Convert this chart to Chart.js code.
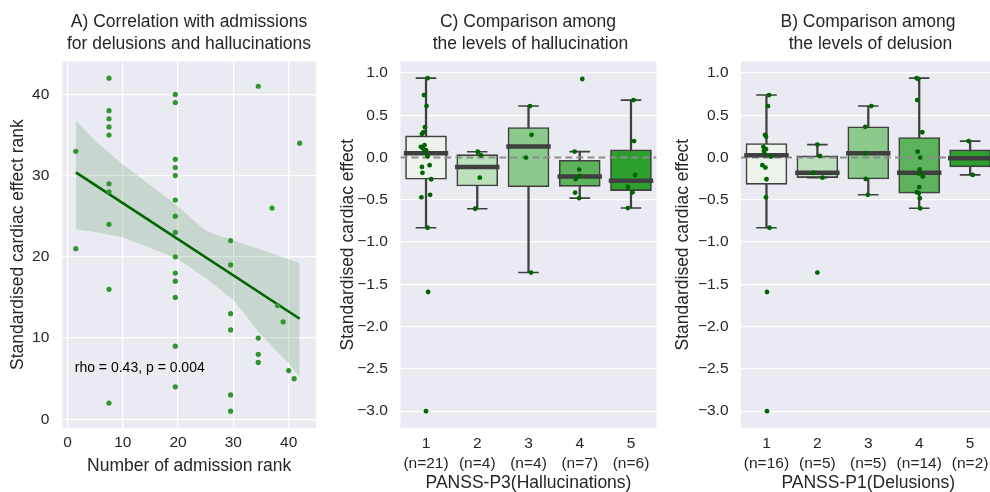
<!DOCTYPE html>
<html><head><meta charset="utf-8">
<script src="https://cdn.jsdelivr.net/npm/chart.js@4/dist/chart.umd.min.js"></script>
<style>
html,body{margin:0;padding:0;background:#fff;overflow:hidden;width:990px;height:492px;position:relative;}
.wrap{position:absolute;top:0;height:492px;}
.title{position:absolute;top:10px;font-family:"Liberation Sans",Arial,sans-serif;font-size:17.5px;color:#262626;text-align:center;line-height:22px;white-space:pre;width:400px;}
</style></head><body>
<div class="wrap" style="left:0;width:330px"><canvas id="cA" width="330" height="492"></canvas></div>
<div class="wrap" style="left:330px;width:330px"><canvas id="cC" width="330" height="492"></canvas></div>
<div class="wrap" style="left:660px;width:340px"><canvas id="cB" width="340" height="492"></canvas></div>
<div class="title" style="left:-11px">A) Correlation with admissions
for delusions and hallucinations</div>
<div class="title" style="left:328px">C) Comparison among
 the levels of hallucination</div>
<div class="title" style="left:668px">B) Comparison among
 the levels of delusion</div>
<script>
// ---------- Panel A data ----------
const admissionRank = [1.5,1.5,
  7.5,7.5,7.5,7.5,7.5,7.5,7.5,7.5,7.5,7.5,
  19.5,19.5,19.5,19.5,19.5,19.5,19.5,19.5,19.5,19.5,19.5,19.5,19.5,19.5,
  29.5,29.5,29.5,29.5,29.5,29.5,
  34.5,34.5,34.5,34.5,
  37,38,39,40,41,42];
const effectRank = [33,21,
  42,38,37,36,35,29,28,24,16,2,
  40,39,32,31,30,27,25,23,20,18,17,15,9,4,
  22,19,13,11,3,1,
  41,10,8,7,
  26,14,12,6,5,34];
const bandX     = [1.5, 5, 10, 15, 20, 25, 30, 35, 40, 42];
const bandUpper = [36.8, 34.3, 31.4, 28.8, 26.2, 23.2, 22.0, 20.9, 19.7, 19.2];
const bandLower = [23.4, 23.05, 22.4, 21.1, 19.7, 17.4, 14.7, 10.4, 6.9, 5.2];
const ticksA = [0, 10, 20, 30, 40];
const rhoText = 'rho = 0.43, p = 0.004';

// ---------- Panel C data (PANSS-P3) ----------
const catLabels = ['1','2','3','4','5'];
const nC = ['(n=21)','(n=4)','(n=4)','(n=7)','(n=6)'];
const ptsC = [
  [0.94,0.74,0.61,0.36,0.30,0.28,0.147,0.127,0.11,0.088,0.07,0.016,-0.09,-0.11,-0.18,-0.256,-0.44,-0.47,-0.83,-1.59,-3.0],
  [0.07,0.028,-0.237,-0.605],
  [0.61,0.27,0.0,-1.36],
  [0.93,0.071,-0.142,-0.217,-0.253,-0.415,-0.48],
  [0.68,0.195,-0.205,-0.348,-0.41,-0.597]
];
const jitC = [
  [0.03,-0.04,0.01,-0.02,-0.05,-0.08,-0.03,-0.10,-0.06,0.0,-0.03,0.03,0.07,-0.08,-0.07,0.10,0.08,-0.09,0.03,0.04,0.0],
  [0.01,0.07,0.05,-0.04],
  [0.03,0.06,-0.05,0.05],
  [0.05,-0.10,-0.01,0,-0.08,-0.09,-0.01],
  [0.05,0.06,0.08,-0.06,0.03,-0.06]
];
const q1C  = [-0.256,-0.336,-0.344,-0.34,-0.39];
const medC = [0.052,-0.11,0.13,-0.225,-0.273];
const q3C  = [0.257,0.035,0.356,-0.031,0.091];
const wloC = [-0.83,-0.605,-1.36,-0.48,-0.597];
const whiC = [0.94,0.07,0.61,0.071,0.68];

// ---------- Panel B data (PANSS-P1) ----------
const nB = ['(n=16)','(n=5)','(n=5)','(n=14)','(n=2)'];
const ptsB = [
  [0.74,0.61,0.27,0.25,0.127,0.10,0.08,0.048,0.012,-0.09,-0.118,-0.256,-0.47,-0.83,-1.59,-3.0],
  [0.154,0.02,-0.178,-0.237,-1.36],
  [0.61,0.364,0.052,-0.253,-0.44],
  [0.94,0.93,0.68,0.30,0.07,0.0,-0.14,-0.19,-0.225,-0.35,-0.41,-0.42,-0.48,-0.60],
  [0.195,-0.205]
];
const jitB = [
  [0.05,0.03,-0.03,-0.01,-0.06,-0.01,-0.05,-0.04,0.09,-0.08,-0.02,0,-0.01,0.06,0.01,0.01],
  [0,0.05,-0.08,0.10,0],
  [0.06,-0.06,-0.06,-0.05,-0.01],
  [-0.05,-0.02,-0.04,0.06,-0.03,0.02,0.01,0,0.07,0,-0.05,-0.01,0.01,0.02],
  [-0.03,0.05]
];
const q1B  = [-0.316,-0.237,-0.253,-0.42,-0.11];
const medB = [0.028,-0.178,0.052,-0.18,-0.007];
const q3B  = [0.166,0.02,0.364,0.237,0.091];
const wloB = [-0.83,-0.237,-0.44,-0.60,-0.205];
const whiB = [0.74,0.154,0.61,0.94,0.195];

const ticksEffect = [1.0,0.5,0.0,-0.5,-1.0,-1.5,-2.0,-2.5,-3.0];
const refLine = 0;
const boxColors = ['#ebf3ea','#bcdfbc','#8cc98c','#5cb35c','#2ca02c'];

// ---------- common ----------
const FONT = '"Liberation Sans", Arial, sans-serif';
const TXT = '#262626';
Chart.defaults.font.family = FONT;
Chart.defaults.color = TXT;
Chart.defaults.animation = false;

const bgPlugin = {id:'bg', beforeDraw(chart){
  const {ctx, chartArea:a} = chart;
  ctx.save(); ctx.fillStyle = '#eaeaf2';
  ctx.fillRect(a.left, a.top, a.right - a.left, a.bottom - a.top);
  ctx.restore();
}};

const TOP = 61.5, BOTTOM = 427.8, H = 492;
const tickFont = {size: 15.5};
const labelFont = {size: 17.5, lineHeight: 1.0};
const fmtEffect = v => (v < 0 ? '\u2212' : '') + Math.abs(v).toFixed(1);
const fitX = s => { s.height = H - BOTTOM; s.paddingLeft = 0; s.paddingRight = 0; };
const fitY = w => s => { s.width = w; s.paddingTop = 0; s.paddingBottom = 0; };

// ---------- Panel A ----------
(function(){
  const n = admissionRank.length;
  const mx = admissionRank.reduce((a,b)=>a+b,0)/n;
  const my = effectRank.reduce((a,b)=>a+b,0)/n;
  let sxy = 0, sxx = 0;
  for (let i=0;i<n;i++){ sxy += (admissionRank[i]-mx)*(effectRank[i]-my); sxx += (admissionRank[i]-mx)**2; }
  const slope = sxy/sxx, icpt = my - slope*mx;
  const x0 = Math.min(...admissionRank), x1 = Math.max(...admissionRank);
  const rhoPlugin = {id:'rho', afterDatasetsDraw(chart){
    const {ctx, scales:{x, y}} = chart;
    ctx.save(); ctx.font = '14px ' + FONT; ctx.fillStyle = '#000'; ctx.textBaseline = 'middle'; ctx.textAlign = 'left';
    ctx.fillText(rhoText, x.getPixelForValue(1.3), y.getPixelForValue(6.27));
    ctx.restore();
  }};
  new Chart(document.getElementById('cA'), {
    type: 'scatter',
    data: { datasets: [
      {type:'line', data: bandX.map((x,i)=>({x, y: bandLower[i]})), borderWidth:0, pointRadius:0, fill:false, order:3, tension:0},
      {type:'line', data: bandX.map((x,i)=>({x, y: bandUpper[i]})), borderWidth:0, pointRadius:0, fill:'-1', backgroundColor:'rgba(0,100,0,0.15)', order:2, tension:0},
      {type:'line', data: [{x:x0, y: icpt+slope*x0},{x:x1, y: icpt+slope*x1}], borderColor:'#006400', borderWidth:2.6, pointRadius:0, fill:false, order:1},
      {type:'scatter', data: admissionRank.map((x,i)=>({x, y: effectRank[i]})), backgroundColor:'#2f952f', borderWidth:0, pointRadius:2.6, order:0}
    ]},
    options: {
      responsive:false, animation:false, events:[],
      layout:{autoPadding:false, padding:{top:TOP, right:330-316, left:0, bottom:0}},
      plugins:{legend:{display:false}, tooltip:{enabled:false}},
      scales:{
        x:{type:'linear', min:-0.95, max:44.95,
           afterBuildTicks: s => { s.ticks = ticksA.map(v=>({value:v})); },
           afterFit: fitX,
           ticks:{font:tickFont, padding:6, color:TXT, callback: v => String(v)},
           grid:{color:'#ffffff', lineWidth:1.3, drawTicks:false}, border:{display:false},
           title:{display:true, text:'Number of admission rank', font:labelFont, color:TXT, padding:{top:0,bottom:17}}},
        y:{type:'linear', min:-1.05, max:44.05,
           afterBuildTicks: s => { s.ticks = ticksA.map(v=>({value:v})); },
           afterFit: fitY(62.3),
           ticks:{font:tickFont, padding:13, color:TXT, callback: v => String(v)},
           grid:{color:'#ffffff', lineWidth:1.3, drawTicks:false}, border:{display:false},
           title:{display:true, text:'Standardised cardiac effect rank', font:labelFont, color:TXT, padding:{top:9.5,bottom:0}}}
      }
    },
    plugins:[bgPlugin, rhoPlugin]
  });
})();

// ---------- box panels ----------
function boxChart(id, pts, jit, q1, med, q3, wlo, whi, nLab, xTitle, yWidth, yTitlePad, rightPad){
  const idx = q1.map((_,i)=>i);
  const points = [];
  pts.forEach((grp,i)=>grp.forEach((v,k)=>points.push({x: i + jit[i][k], y: v})));
  const caps = [];
  idx.forEach(i=>{ caps.push({x:i, y:wlo[i]}); caps.push({x:i, y:whi[i]}); });
  new Chart(document.getElementById(id), {
    type:'bar',
    data:{ datasets:[
      {type:'bar', data: idx.map(i=>({x:i, y:[wlo[i], whi[i]]})), backgroundColor:'#3f3f3f', borderWidth:0, barThickness:1.6, grouped:false, order:6},
      {type:'bar', data: idx.map(i=>({x:i, y:[q1[i], q3[i]]})), backgroundColor:boxColors, borderColor:'#3f3f3f', borderWidth:1.6, borderSkipped:false, barThickness:41, grouped:false, order:5},
      {type:'line', data:[{x:-0.5, y:refLine},{x:4.5, y:refLine}], borderColor:'#8c8c8c', borderDash:[7,4], borderWidth:2, pointRadius:0, fill:false, order:4},
      {type:'scatter', data: caps, pointStyle:'line', pointRadius:10.3, borderColor:'#3f3f3f', pointBorderColor:'#3f3f3f', pointBorderWidth:1.6, borderWidth:1.6, order:3},
      {type:'scatter', data: idx.map(i=>({x:i, y:med[i]})), pointStyle:'line', pointRadius:22.2, pointBorderColor:'#3f3f3f', borderColor:'#3f3f3f', pointBorderWidth:4.5, borderWidth:4.5, order:2},
      {type:'scatter', data: points, pointBackgroundColor:'#006400', backgroundColor:'#006400', pointBorderWidth:0, borderWidth:0, pointRadius:2.4, order:1}
    ]},
    options:{
      responsive:false, animation:false, events:[],
      layout:{autoPadding:false, padding:{top:TOP, right:rightPad, left:0, bottom:0}},
      plugins:{legend:{display:false}, tooltip:{enabled:false}},
      scales:{
        x:{type:'linear', min:-0.5, max:4.5, offset:false,
           afterBuildTicks: s => { s.ticks = idx.map(v=>({value:v})); },
           afterFit: fitX,
           ticks:{font:{size:15.5, lineHeight:1.35}, padding:5, color:TXT, callback: v => [catLabels[v], nLab[v]]},
           grid:{display:false, offset:false, drawTicks:false}, border:{display:false},
           title:{display:true, text:xTitle, font:labelFont, color:TXT, padding:{top:0,bottom:0}}},
        y:{type:'linear', min:-3.197, max:1.137, beginAtZero:false,
           afterBuildTicks: s => { s.ticks = ticksEffect.map(v=>({value:v})); },
           afterFit: fitY(yWidth),
           ticks:{font:tickFont, padding:12.5, color:TXT, callback: v => fmtEffect(v)},
           grid:{color:'#ffffff', lineWidth:1.3, drawTicks:false}, border:{display:false},
           title:{display:true, text:'Standardised cardiac effect', font:labelFont, color:TXT, padding:{top:yTitlePad,bottom:0}}}
      }
    },
    plugins:[bgPlugin]
  });
}
boxChart('cC', ptsC, jitC, q1C, medC, q3C, wloC, whiC, nC, 'PANSS-P3(Hallucinations)', 70.4, 9.25, 3.4);
boxChart('cB', ptsB, jitB, q1B, medB, q3B, wloB, whiB, nB, 'PANSS-P1(Delusions)', 81, 14.5, 4.4);
</script>
</body></html>
